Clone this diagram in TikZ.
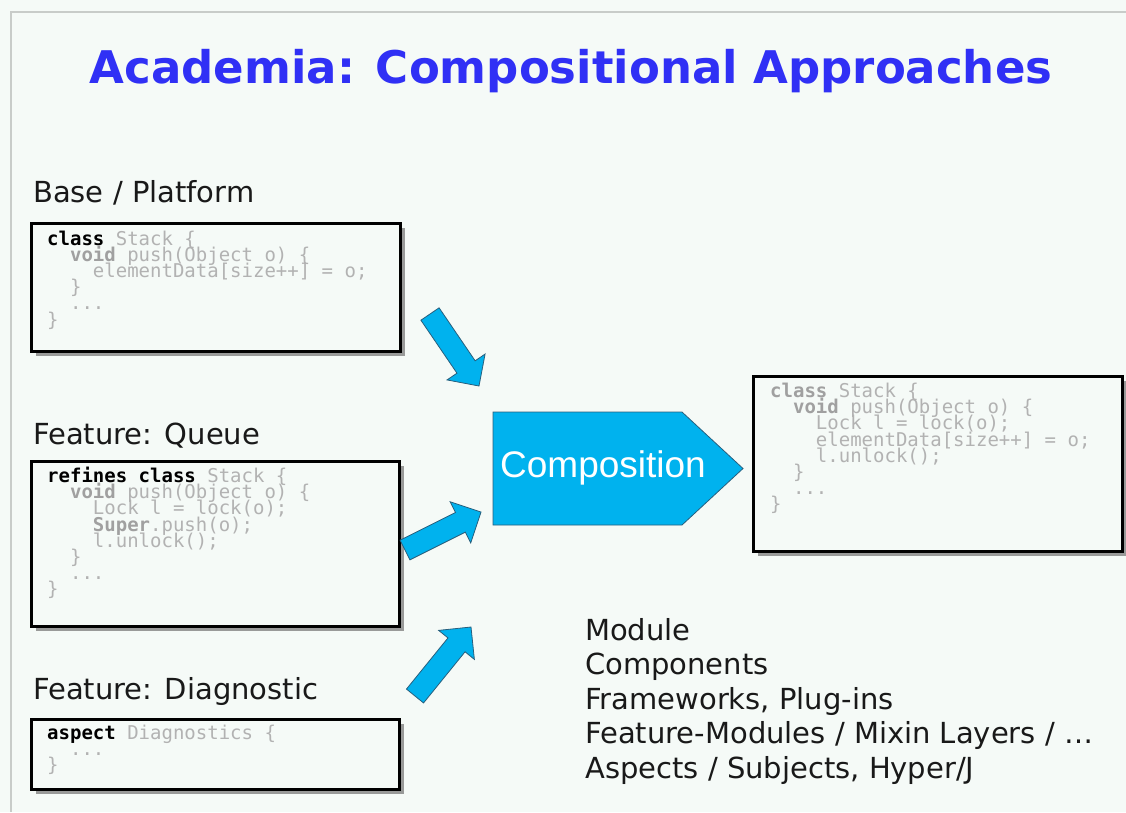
\documentclass[tikz,border=0pt]{standalone}
\usepackage{fontspec}
\setmainfont{DejaVu Sans}
\newfontfamily\codefont{DejaVu Sans Mono}
\newfontfamily\arialfont{Liberation Sans}
\usetikzlibrary{calc,shadows}

\definecolor{pagebg}{RGB}{245,250,247}
\definecolor{framegray}{RGB}{200,204,201}
\definecolor{titleblue}{RGB}{48,48,245}
\definecolor{compblue}{RGB}{0,178,238}
\definecolor{compedge}{RGB}{40,95,125}
\definecolor{codegray}{RGB}{178,178,178}
\definecolor{kwgray}{RGB}{160,160,160}
\definecolor{shadowgray}{RGB}{130,130,130}

% keyword markup inside the code listings
\newcommand\kw[1]{{\bfseries\color{black}#1}}
\newcommand\kwg[1]{{\bfseries\color{kwgray}#1}}
\newcommand\ind[1]{\hspace*{#1\fontcharwd\font`x}}
\newcommand\listing[1]{\parbox[t]{360pt}{\leavevmode\codefont\fontsize{19}{16.2}\selectfont
  \lineskiplimit=-30pt\lineskip=0pt\color{codegray}#1}}

% block arrow from a tail coordinate #1 to a tip coordinate #2
\newcommand\blockarrow[2]{%
  \coordinate (hb) at ($(#2)!23pt!(#1)$);
  \draw[flowarrow] ($(#1)!11pt!90:(#2)$) -- ($(hb)!11pt!-90:(#1)$)
    -- ($(hb)!23pt!-90:(#1)$) -- (#2) -- ($(hb)!23pt!90:(#1)$)
    -- ($(hb)!11pt!90:(#1)$) -- ($(#1)!11pt!-90:(#2)$) -- cycle;
}

\tikzset{
  frameline/.style={draw=framegray, line width=2pt},
  titletext/.style={font=\fontsize{45}{54}\selectfont\bfseries, text=titleblue, inner sep=0},
  labeltext/.style={font=\fontsize{29}{35}\selectfont, text=black!90, inner sep=0},
  codebox/.style={draw=black, line width=3pt, fill=pagebg, inner sep=0,
    drop shadow={shadow xshift=4pt, shadow yshift=-4pt, fill=shadowgray, opacity=0.8}},
  codetext/.style={inner sep=0},
  compshape/.style={draw=compedge, line width=0.8pt, fill=compblue},
  comptext/.style={font=\arialfont\fontsize{37}{44}\selectfont, text=white, inner sep=0},
  flowarrow/.style={draw=compedge, line width=0.8pt, fill=compblue, line join=miter},
}

\begin{document}
\begin{tikzpicture}[x=1pt,y=-1pt]
\useasboundingbox (0,0) rectangle (1126,812);
\fill[pagebg] (0,0) rectangle (1126,812);
\draw[frameline] (11,812) -- (11,12) -- (1126,12);

% heading
\node[titletext, anchor=base] (title) at (571,83) {Academia: Compositional Approaches};

% section labels
\node[labeltext, anchor=base west] (lbase) at (33,202) {Base / Platform};
\node[labeltext, anchor=base west] (lqueue) at (33,444) {Feature: Queue};
\node[labeltext, anchor=base west] (ldiag) at (33,699) {Feature: Diagnostic};

% code boxes
\node[codebox, minimum width=369pt, minimum height=128pt, anchor=north west] (base) at (30,222) {};
\node[codebox, minimum width=368pt, minimum height=165pt, anchor=north west] (queue) at (30,460) {};
\node[codebox, minimum width=368pt, minimum height=70pt, anchor=north west] (diag) at (30,718) {};
\node[codebox, minimum width=369pt, minimum height=175pt, anchor=north west] (result) at (752,375) {};

\node[codetext, anchor=base west] (basecode) at ($(base.north west)+(17,23)$) {\listing{%
\kw{class} Stack \{\\
\ind{2}\kwg{void} push(Object o) \{\\
\ind{4}elementData[size++] = o;\\
\ind{2}\}\\
\ind{2}...\\
\}}};

\node[codetext, anchor=base west] (queuecode) at ($(queue.north west)+(17,22.5)$) {\listing{%
\kw{refines class} Stack \{\\
\ind{2}\kwg{void} push(Object o) \{\\
\ind{4}Lock l = lock(o);\\
\ind{4}\kwg{Super}.push(o);\\
\ind{4}l.unlock();\\
\ind{2}\}\\
\ind{2}...\\
\}}};

\node[codetext, anchor=base west] (diagcode) at ($(diag.north west)+(17,21.5)$) {\listing{%
\kw{aspect} Diagnostics \{\\
\ind{2}...\\
\}}};

\node[codetext, anchor=base west] (resultcode) at ($(result.north west)+(18,22.5)$) {\listing{%
\kwg{class} Stack \{\\
\ind{2}\kwg{void} push(Object o) \{\\
\ind{4}Lock l = lock(o);\\
\ind{4}elementData[size++] = o;\\
\ind{4}l.unlock();\\
\ind{2}\}\\
\ind{2}...\\
\}}};

% composition step
\draw[compshape] (493,412) -- (682,412) -- (743,468.5) -- (682,525) -- (493,525) -- cycle;
\node[comptext, anchor=base] (comp) at (603,477) {Composition};

% inputs flowing into the composition
\coordinate (t1) at (430,314);  \coordinate (h1) at (479,386);
\coordinate (t2) at (405,550);  \coordinate (h2) at (481,512);
\coordinate (t3) at (415,696);  \coordinate (h3) at (471,627);
\blockarrow{t1}{h1}
\blockarrow{t2}{h2}
\blockarrow{t3}{h3}

% kinds of composition units
\node[labeltext, anchor=base west] (kinds) at (585,640) {\parbox[t]{540pt}{\fontsize{29}{34.6}\selectfont
Module\\
Components\\
Frameworks, Plug-ins\\
Feature-Modules / Mixin Layers / …\\
Aspects / Subjects, Hyper/J}};
\end{tikzpicture}
\end{document}
